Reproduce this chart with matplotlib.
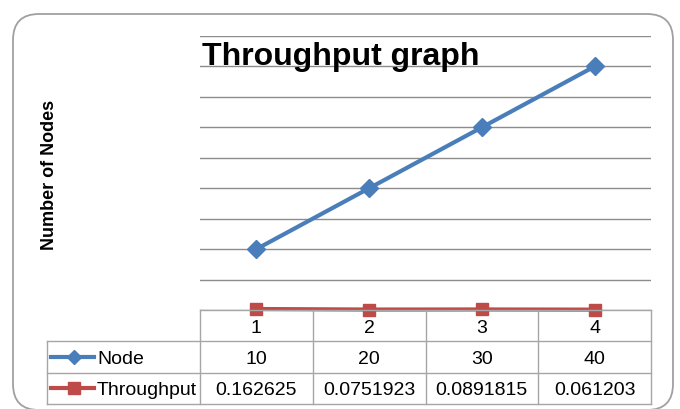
import matplotlib
matplotlib.use("Agg")
import matplotlib.pyplot as plt
from matplotlib.patches import FancyBboxPatch
from matplotlib.transforms import IdentityTransform
import numpy as np

# data
categories = [1, 2, 3, 4]
node = [10, 20, 30, 40]
throughput = [0.162625, 0.0751923, 0.0891815, 0.061203]
node_labels = ["10", "20", "30", "40"]
throughput_labels = ["0.162625", "0.0751923", "0.0891815", "0.061203"]

BLUE = "#4A7EBB"
RED = "#BE4B48"
GRID = "#8c8c8c"
CELL = "#a6a6a6"

W, H = 680, 410
plt.rcParams["font.family"] = ["Liberation Sans", "DejaVu Sans"]
fig = plt.figure(figsize=(W / 100, H / 100), dpi=100)


def box(x0, y0, x1, y1):
    """pixel box (origin top-left) -> figure fraction rect"""
    return [x0 / W, 1 - y1 / H, (x1 - x0) / W, (y1 - y0) / H]


# rounded frame around the chart
frame = FancyBboxPatch((13, H - 411), 660, 396,
                       boxstyle="round,pad=0,rounding_size=26",
                       transform=IdentityTransform(), fc="none",
                       ec="#a0a0a0", lw=1.3, zorder=-1)
fig.patches.append(frame)

#########################################
# plot area
#########################################
ax = fig.add_axes(box(200, 37, 651, 311))
ax.set_xlim(0.5, 4.5)
ax.set_ylim(0, 45)
ax.set_yticks(np.arange(0, 46, 5))
ax.set_xticks([])
ax.tick_params(left=False, labelleft=False)
ax.grid(axis="y", color=GRID, lw=1)
ax.set_axisbelow(True)
for s in ax.spines.values():
    s.set_visible(False)
ax.patch.set_alpha(0)

ax.plot(categories, node, color=BLUE, lw=3, marker="D", ms=9,
        clip_on=False, zorder=3)
ax.plot(categories, throughput, color=RED, lw=3, marker="s", ms=9,
        clip_on=False, zorder=3)

fig.text(202 / W, 1 - 65 / H, "Throughput graph", fontsize=23,
         fontweight="bold", ha="left", va="baseline")
fig.text(50 / W, 1 - 175 / H, "Number of Nodes", fontsize=13,
         fontweight="bold", rotation=90, ha="center", va="center")

#########################################
# data table below the plot
#########################################
unit = (651 - 200) / 4.0
x0 = 0.5 - (200 - 47) / unit
tab = fig.add_axes(box(47, 311, 651, 405))
tab.set_xlim(x0, 4.5)
tab.set_ylim(3, 0)
tab.axis("off")


def u(p):
    return x0 + (p - 47) / unit


lk = dict(color=CELL, lw=1, clip_on=False)
tab.plot([0.5, 4.5], [0, 0], **lk)
for r in (1, 2, 3):
    tab.plot([x0, 4.5], [r, r], **lk)
for c in np.arange(0.5, 4.6, 1.0):
    tab.plot([c, c], [0, 3], **lk)
tab.plot([x0, x0], [1, 3], **lk)

fs = 14
for c, n, t in zip(categories, node_labels, throughput_labels):
    tab.text(c, 0.55, str(c), fontsize=fs, ha="center", va="center")
    tab.text(c, 1.55, n, fontsize=fs, ha="center", va="center")
    tab.text(c, 2.55, t, fontsize=fs, ha="center", va="center")

# row labels with legend keys
tab.plot([u(51), u(94)], [1.5, 1.5], color=BLUE, lw=3, clip_on=False)
tab.plot([u(74)], [1.5], color=BLUE, marker="D", ms=7, clip_on=False)
tab.plot([u(51), u(94)], [2.5, 2.5], color=RED, lw=3, clip_on=False)
tab.plot([u(74)], [2.5], color=RED, marker="s", ms=9, clip_on=False)
tab.text(u(97), 1.55, "Node", fontsize=fs, ha="left", va="center")
tab.text(u(97), 2.55, "Throughput", fontsize=fs, ha="left", va="center")

fig.savefig("out.png", dpi=100)
